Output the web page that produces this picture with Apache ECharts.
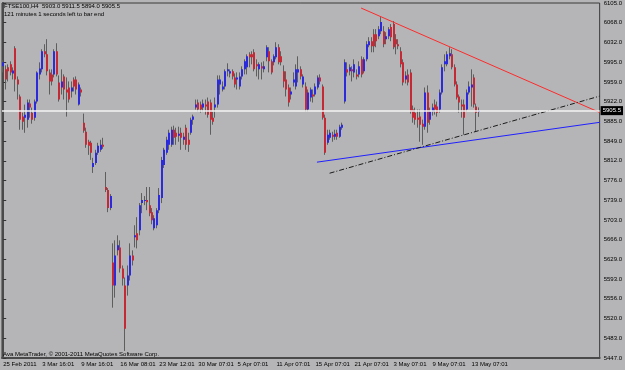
<!DOCTYPE html>
<html>
<head>
<meta charset="utf-8">
<script src="https://cdn.jsdelivr.net/npm/echarts@6/dist/echarts.min.js"></script>
<style>
  html, body { margin: 0; padding: 0; background: #b5b5b7; }
  #chart { width: 625px; height: 370px; }
</style>
</head>
<body>
<div id="chart"></div>
<script>
// FTSE100 H4 bars, 25 Feb - 13 May 2011
const opens = [
  5987.6, 5982.0, 5985.7, 5991.3, 5974.5, 6021.1, 5963.3, 5931.7, 5894.4, 5892.5,
  5888.8, 5918.6, 5901.8, 5892.5, 5922.3, 5972.7, 5982.0, 6015.5, 6009.9, 5976.4,
  5972.7, 5972.7, 6015.5, 5957.8, 5948.4, 5968.9, 5944.7, 5948.4, 5941.0, 5963.3,
  5963.3, 5916.7, 5944.7, 5883.2, 5866.4, 5847.8, 5845.9, 5801.2, 5808.6, 5827.3,
  5832.9, 5842.2, 5763.9, 5758.3, 5724.8, 5624.1, 5581.3, 5646.5, 5652.0, 5612.9,
  5581.3, 5581.3, 5599.9, 5637.2, 5670.7, 5678.2, 5683.7, 5734.1, 5737.8, 5739.7,
  5730.3, 5717.3, 5687.5, 5693.1, 5721.0, 5743.4, 5804.9, 5827.3, 5842.2, 5842.2,
  5870.1, 5864.5, 5859.0, 5864.5, 5851.5, 5873.9, 5851.5, 5864.5, 5888.8, 5911.1,
  5920.5, 5916.7, 5911.1, 5916.7, 5922.3, 5920.5, 5892.5, 5911.1, 5916.7, 5954.0,
  5944.7, 5950.3, 5978.3, 5974.5, 5978.3, 5967.1, 5963.3, 5950.3, 5968.9, 5982.0,
  5985.7, 6009.9, 6009.9, 6013.7, 5991.3, 5982.0, 5987.6, 5982.0, 6004.4, 6015.5,
  5996.9, 5995.0, 6004.4, 6023.0, 6006.2, 5978.3, 5963.3, 5948.4, 5935.4, 5957.8,
  5950.3, 5976.4, 5982.0, 5954.0, 5950.3, 5907.4, 5929.8, 5935.4, 5935.4, 5948.4,
  5967.1, 5950.3, 5892.5, 5845.9, 5855.2, 5860.8, 5857.1, 5864.5, 5857.1, 5873.9,
  5922.3, 5982.0, 5978.3, 5982.0, 5976.4, 5972.7, 5972.7, 6000.6, 5978.3, 6000.6,
  6026.7, 6034.2, 6047.2, 6047.2, 6043.5, 6052.8, 6052.8, 6037.9, 6043.5, 6060.3,
  6065.9, 6037.9, 6028.6, 6015.5, 5995.0, 5963.3, 5972.7, 5976.4, 5907.4, 5901.8,
  5892.5, 5894.4, 5881.3, 5875.7, 5939.1, 5888.8, 5903.7, 5916.7, 5913.0, 5907.4,
  5939.1, 5991.3, 5991.3, 6006.2, 6009.9, 5985.7, 5954.0, 5931.7, 5916.7, 5916.7,
  5907.4, 5939.1, 5948.4, 5967.1, 5913.0, 5903.0
];
const highs = [
  5998.8, 5989.4, 5991.3, 5996.9, 5985.7, 6024.9, 5968.9, 5935.4, 5901.8, 5916.7,
  5926.1, 5926.1, 5911.1, 5926.1, 5978.3, 5995.0, 6019.3, 6028.6, 6037.9, 5982.0,
  5982.0, 6019.3, 6030.4, 5970.8, 5982.0, 5972.7, 5967.1, 5959.6, 5959.6, 5967.1,
  5968.9, 5957.8, 5948.4, 5900.0, 5873.9, 5851.5, 5849.6, 5818.0, 5832.9, 5845.9,
  5851.5, 5855.2, 5791.8, 5762.0, 5750.8, 5659.5, 5665.1, 5674.4, 5665.1, 5618.5,
  5596.2, 5618.5, 5659.5, 5646.5, 5693.1, 5708.0, 5734.1, 5752.7, 5747.1, 5763.9,
  5763.9, 5724.8, 5711.7, 5724.8, 5762.0, 5819.8, 5836.6, 5857.1, 5870.1, 5875.7,
  5877.6, 5873.9, 5875.7, 5873.9, 5864.5, 5879.4, 5864.5, 5892.5, 5898.1, 5926.1,
  5926.1, 5922.3, 5926.1, 5926.1, 5929.8, 5926.1, 5903.7, 5929.8, 5970.8, 5970.8,
  5959.6, 5982.0, 5993.2, 5982.0, 5982.0, 5974.5, 5976.4, 5976.4, 5987.6, 6000.6,
  6009.9, 6013.7, 6015.5, 6019.3, 6000.6, 5995.0, 5995.0, 5996.9, 6026.7, 6023.0,
  6000.6, 6009.9, 6032.3, 6028.6, 6015.5, 5989.4, 5978.3, 5954.0, 5948.4, 5976.4,
  5991.3, 6006.2, 5987.6, 5972.7, 5957.8, 5944.7, 5948.4, 5944.7, 5955.9, 5970.8,
  5972.7, 5954.0, 5898.1, 5870.1, 5870.1, 5866.4, 5870.1, 5870.1, 5879.4, 5883.2,
  6000.6, 5995.0, 5991.3, 5987.6, 6000.6, 5982.0, 5996.9, 6006.2, 6004.4, 6034.2,
  6041.6, 6041.6, 6056.5, 6056.5, 6062.1, 6078.9, 6062.1, 6050.9, 6060.3, 6065.9,
  6071.5, 6047.2, 6037.9, 6023.0, 6000.6, 5978.3, 5982.0, 5982.0, 5914.9, 5911.1,
  5907.4, 5907.4, 5888.8, 5948.4, 5952.2, 5911.1, 5918.6, 5926.1, 5922.3, 5944.7,
  5991.3, 6009.9, 6015.5, 6023.0, 6019.3, 5991.3, 5959.6, 5935.4, 5926.1, 5926.1,
  5944.7, 5959.6, 5982.0, 5972.7, 5918.6, 5911.5
];
const lows = [
  5976.4, 5944.7, 5959.6, 5970.8, 5963.3, 5941.0, 5926.1, 5870.1, 5870.1, 5864.5,
  5873.9, 5892.5, 5881.3, 5886.9, 5918.6, 5963.3, 5976.4, 6004.4, 5970.8, 5935.4,
  5952.2, 5967.1, 5968.9, 5922.3, 5935.4, 5926.1, 5894.4, 5920.5, 5929.8, 5941.0,
  5935.4, 5914.9, 5931.7, 5864.5, 5836.6, 5823.5, 5814.2, 5790.0, 5804.9, 5823.5,
  5829.1, 5834.7, 5754.6, 5717.3, 5721.0, 5540.3, 5558.9, 5637.2, 5605.4, 5581.3,
  5460.1, 5562.6, 5590.6, 5618.5, 5652.0, 5650.2, 5674.4, 5715.4, 5730.3, 5721.0,
  5709.8, 5694.9, 5683.7, 5687.5, 5715.4, 5734.1, 5799.3, 5823.5, 5832.9, 5838.4,
  5842.2, 5842.2, 5847.8, 5832.9, 5842.2, 5832.9, 5829.1, 5860.8, 5879.4, 5907.4,
  5903.7, 5901.8, 5903.7, 5898.1, 5892.5, 5860.8, 5879.4, 5892.5, 5911.1, 5935.4,
  5941.0, 5944.7, 5968.9, 5967.1, 5963.3, 5948.4, 5944.7, 5944.7, 5963.3, 5972.7,
  5972.7, 5985.7, 5991.3, 5978.3, 5968.9, 5963.3, 5963.3, 5976.4, 5996.9, 5976.4,
  5972.7, 5989.4, 6000.6, 5991.3, 5989.4, 5948.4, 5931.7, 5913.0, 5926.1, 5950.3,
  5944.7, 5957.8, 5963.3, 5948.4, 5903.7, 5903.7, 5922.3, 5920.5, 5931.7, 5944.7,
  5954.0, 5888.8, 5823.5, 5842.2, 5851.5, 5847.8, 5851.5, 5851.5, 5855.2, 5870.1,
  5918.6, 5968.9, 5970.8, 5959.6, 5967.1, 5963.3, 5967.1, 5967.1, 5974.5, 5996.9,
  6023.0, 6013.7, 6013.7, 6023.0, 6037.9, 6047.2, 6023.0, 6028.6, 6037.9, 6034.2,
  6019.3, 6009.9, 6019.3, 5985.7, 5952.2, 5955.9, 5952.2, 5900.0, 5883.2, 5879.4,
  5873.9, 5847.8, 5842.2, 5870.1, 5864.5, 5879.4, 5896.2, 5898.1, 5894.4, 5901.8,
  5935.4, 5978.3, 5987.6, 6000.6, 5982.0, 5950.3, 5926.1, 5901.8, 5892.5, 5860.8,
  5903.7, 5935.4, 5913.0, 5911.1, 5866.4, 5894.0
];
const closes = [
  5995.0, 5963.3, 5978.3, 5976.4, 5980.1, 5963.3, 5954.0, 5888.8, 5885.0, 5898.1,
  5920.5, 5911.1, 5888.8, 5922.3, 5976.4, 5983.8, 6015.5, 6009.9, 5978.3, 5959.6,
  5959.6, 6015.5, 5972.7, 5926.1, 5959.6, 5944.7, 5939.1, 5926.1, 5948.4, 5950.3,
  5944.7, 5954.0, 5939.1, 5868.3, 5842.2, 5840.3, 5827.3, 5808.6, 5827.3, 5840.3,
  5842.2, 5838.4, 5758.3, 5724.8, 5747.1, 5581.3, 5637.2, 5655.8, 5612.9, 5594.3,
  5501.1, 5599.9, 5637.2, 5627.8, 5674.4, 5665.1, 5730.3, 5739.7, 5739.7, 5735.9,
  5715.4, 5702.4, 5706.1, 5721.0, 5749.0, 5814.2, 5832.9, 5851.5, 5864.5, 5870.1,
  5855.2, 5857.1, 5862.7, 5855.2, 5857.1, 5842.2, 5842.2, 5888.8, 5894.4, 5916.7,
  5907.4, 5907.4, 5918.6, 5913.0, 5898.1, 5888.8, 5885.0, 5916.7, 5963.3, 5963.3,
  5950.3, 5978.3, 5982.0, 5978.3, 5968.9, 5954.0, 5967.1, 5968.9, 5982.0, 5996.9,
  6006.2, 6004.4, 6004.4, 5982.0, 5987.6, 5991.3, 5983.8, 5987.6, 6023.0, 5996.9,
  5976.4, 6006.2, 6023.0, 5995.0, 5995.0, 5959.6, 5944.7, 5920.5, 5941.0, 5963.3,
  5982.0, 5982.0, 5968.9, 5968.9, 5907.4, 5939.1, 5944.7, 5931.7, 5950.3, 5967.1,
  5959.6, 5892.5, 5827.3, 5860.8, 5864.5, 5857.1, 5862.7, 5857.1, 5875.7, 5879.4,
  5995.0, 5976.4, 5985.7, 5978.3, 5991.3, 5968.9, 5987.6, 5972.7, 6000.6, 6028.6,
  6034.2, 6024.9, 6024.9, 6034.2, 6056.5, 6069.6, 6028.6, 6043.5, 6056.5, 6041.6,
  6023.0, 6028.6, 6024.9, 5991.3, 5957.8, 5970.8, 5957.8, 5903.7, 5892.5, 5888.8,
  5888.8, 5879.4, 5875.7, 5939.1, 5883.2, 5903.7, 5911.1, 5907.4, 5901.8, 5939.1,
  5985.7, 5996.9, 6009.9, 6011.8, 5985.7, 5954.0, 5929.8, 5920.5, 5913.0, 5892.5,
  5939.1, 5950.3, 5954.0, 5916.7, 5901.8, 5905.5
];

// time scale labels, one every 16 bars
const timeLabels = [
  '25 Feb 2011', '3 Mar 16:01', '9 Mar 16:01', '16 Mar 08:01', '23 Mar 12:01',
  '30 Mar 07:01', '5 Apr 07:01', '11 Apr 07:01', '15 Apr 07:01', '21 Apr 07:01',
  '3 May 07:01', '9 May 07:01', '13 May 07:01'
];
const labelStep = 16;
const slotCount = 245; // bars + empty space on the right (chart shift)

const priceTicks = [
  '5447.0', '5483.0', '5520.0', '5556.0', '5593.0', '5629.0', '5666.0', '5703.0', '5739.0', '5776.0',
  '5812.0', '5849.0', '5885.0', '5922.0', '5959.0', '5995.0', '6032.0', '6068.0', '6105.0'
];
const priceMin = 5447;
const priceMax = 6105;

// trend lines: [bar index, price]
const resistanceLine = [[146.7, 6095.7], [244.5, 5902.1]];
const supportLine = [[128.6, 5810.0], [244.5, 5883.8]];
const channelLine = [[133.8, 5789.5], [244.5, 5932.4]];
const bidPrice = 5905.5;

const headerText = 'FTSE100,H4  5903.0 5911.5 5894.0 5905.5';
const countdownText = '121 minutes 1 seconds left to bar end';
const footerText = 'Ava MetaTrader, \u00a9 2001-2011 MetaQuotes Software Corp.';

const FONT = '"Liberation Sans", Arial, sans-serif';
const FS = 6;
const BULL = '#2b2bdc';
const BEAR = '#c42a36';
const WICK = '#5e5e5e';

const categories = [];
for (let i = 0; i < slotCount; i++) {
  categories.push(i % labelStep === 0 && timeLabels[i / labelStep] ? timeLabels[i / labelStep] : '');
}
const candleData = opens.map((o, i) => [i, o, closes[i], lows[i], highs[i]]);
const tickStep = (priceMax - priceMin) / (priceTicks.length - 1);

function renderCandle(params, api) {
  const i = api.value(0);
  const o = api.value(1);
  const c = api.value(2);
  const pO = api.coord([i, o]);
  const pC = api.coord([i, c]);
  const pL = api.coord([i, api.value(3)]);
  const pH = api.coord([i, api.value(4)]);
  const x = Math.round(pO[0]);
  const top = Math.min(pO[1], pC[1]);
  const h = Math.max(Math.abs(pO[1] - pC[1]), 1);
  return {
    type: 'group',
    children: [
      { type: 'line', shape: { x1: x - 0.5, y1: pH[1], x2: x - 0.5, y2: pL[1] }, style: { stroke: WICK, lineWidth: 1 } },
      { type: 'rect', shape: { x: x - 1, y: top, width: 2, height: h }, style: { fill: c >= o ? BULL : BEAR } }
    ]
  };
}

const chart = echarts.init(document.getElementById('chart'));
chart.setOption({
  animation: false,
  backgroundColor: '#b5b5b7',
  textStyle: { fontFamily: FONT },
  title: [
    { text: headerText + '\n' + countdownText, left: 4, top: 2, padding: 0,
      textStyle: { fontSize: FS, fontWeight: 'normal', color: '#000', lineHeight: 8, fontFamily: FONT } },
    { text: footerText, left: 3, top: 350, padding: 0,
      textStyle: { fontSize: FS, fontWeight: 'normal', color: '#000', lineHeight: 8, fontFamily: FONT } }
  ],
  grid: { left: 2, right: 23, top: 3, bottom: 12, show: true, borderColor: '#3a3a3a', borderWidth: 1, backgroundColor: 'transparent' },
  xAxis: [
    {
      type: 'category',
      data: categories,
      boundaryGap: true,
      axisLine: { lineStyle: { color: '#4a4a4a', width: 2 } },
      axisTick: { alignWithLabel: true, length: 3, interval: (idx, val) => val !== '', lineStyle: { color: '#333' } },
      axisLabel: { interval: (idx, val) => val !== '', align: 'left', margin: 3, fontSize: FS, color: '#000', fontFamily: FONT },
      splitLine: { show: false }
    },
    {
      type: 'value',
      min: -0.5,
      max: slotCount - 0.5,
      show: false
    }
  ],
  yAxis: {
    type: 'value',
    position: 'right',
    min: priceMin,
    max: priceMax,
    interval: tickStep,
    axisLine: { show: true, lineStyle: { color: '#4a4a4a', width: 2 } },
    axisTick: { show: true, length: 3, lineStyle: { color: '#333' } },
    axisLabel: {
      margin: 4, fontSize: FS, color: '#000', fontFamily: FONT,
      formatter: (v) => priceTicks[Math.round((v - priceMin) / tickStep)] || ''
    },
    splitLine: { show: false }
  },
  series: [
    {
      type: 'line',
      data: [],
      markLine: {
        silent: true,
        symbol: 'none',
        lineStyle: { color: '#f4f4f4', width: 1.5, type: 'solid' },
        label: {
          show: true, position: 'end', distance: 1, formatter: bidPrice.toFixed(1),
          color: '#fff', backgroundColor: '#000', padding: [2, 2, 1, 2], fontSize: FS, fontFamily: FONT
        },
        data: [{ yAxis: bidPrice }]
      }
    },
    {
      type: 'custom',
      renderItem: renderCandle,
      encode: { x: 0, y: [1, 2, 3, 4] },
      data: candleData,
      clip: true
    },
    {
      type: 'line', xAxisIndex: 1, data: resistanceLine, symbol: 'none',
      lineStyle: { color: '#ff2a2a', width: 1 }
    },
    {
      type: 'line', xAxisIndex: 1, data: supportLine, symbol: 'none',
      lineStyle: { color: '#2020ff', width: 1 }
    },
    {
      type: 'line', xAxisIndex: 1, data: channelLine, symbol: 'none',
      lineStyle: { color: '#1a1a1a', width: 1, type: [5, 2, 1, 2] }
    }
  ]
});
</script>
</body>
</html>
